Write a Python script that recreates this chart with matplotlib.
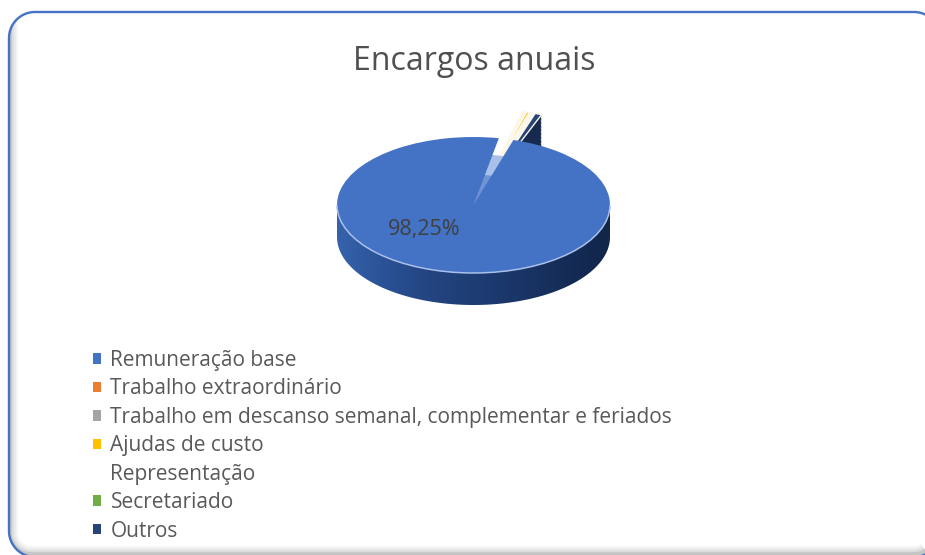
import numpy as np
import matplotlib
matplotlib.use("Agg")
import matplotlib.pyplot as plt
from matplotlib.colors import LinearSegmentedColormap
from matplotlib.patches import Patch, Polygon, Arc, Ellipse

plt.rcParams['font.family'] = ['Open Sans', 'DejaVu Sans']

# --- Data ---
TITLE = 'Encargos anuais'
labels = ['Remuneração base', 'Trabalho extraordinário',
          'Trabalho em descanso semanal, complementar e feriados',
          'Ajudas de custo', 'Representação', 'Secretariado', 'Outros']
values = [98.25, 0.20, 0.10, 0.30, 0.20, 0.15, 0.80]
main_label = '98,25%'
colors = ['#4472c4', '#ed7d31', '#a5a5a5', '#ffc000', '#ffffff', '#70ad47', '#264478']

W, H = 925, 555
CX, CY, RX, RY = 473.5, 205, 136.5, 68
DEPTH = 32 / RY
EXPLODE = 0.42
START_MAIN = 73
START_SMALL = 69
TEXT = '#595959'


def round_rect(x0, y0, x1, y1, r):
    """Outline of a rounded box as plain points (y axis points down)."""
    corners = [(x1 - r, y0 + r, -90), (x1 - r, y1 - r, 0), (x0 + r, y1 - r, 90), (x0 + r, y0 + r, 180)]
    pts = []
    for cx, cy, a in corners:
        t = np.radians(np.linspace(a, a + 90, 24))
        pts.append(np.c_[cx + r * np.cos(t), cy + r * np.sin(t)])
    return np.vstack(pts)


fig = plt.figure(figsize=(W / 100, H / 100), dpi=100, facecolor='white')

# frame with inner shadow
bg = fig.add_axes([0, 0, 1, 1])
bg.set_xlim(0, W)
bg.set_ylim(H, 0)
bg.axis('off')
frame_pts = round_rect(9, 12, 940, 557, 26)
frame = Polygon(frame_pts, closed=True, fc='white', ec='none')
bg.add_patch(frame)
for lw, col in [(13, '#f6f6f6'), (10, '#ebebeb'), (7, '#dcdcdc'), (4, '#c4c4c4')]:
    sh = Polygon(round_rect(9, -40, 936, 555, 22), closed=True, fc='none', ec=col, lw=lw)
    bg.add_patch(sh)
    sh.set_clip_path(frame)
bg.add_patch(Polygon(frame_pts, closed=True, fc='none', ec='#4472c4', lw=1.7))
bg.text(474.5, 61, TITLE, ha='center', va='center', fontsize=23, color='#505050')

# pie axes, unit circle squashed to the ellipse
xl, yl = 1.3, 1.6
ax = fig.add_axes([(CX - xl * RX) / W, 1 - (CY + yl * RY) / H,
                   2 * xl * RX / W, 2 * yl * RY / H])
ax.patch.set_alpha(0)

explode = [0] + [EXPLODE] * (len(values) - 1)

# extruded side of the exploded slices
for d in np.linspace(DEPTH, 0.01, 24):
    side_colors = ['none'] * (len(values) - 1) + ['#17294f']
    w, _ = ax.pie(values, explode=explode, colors=side_colors, startangle=START_SMALL,
                  counterclock=False, center=(0, -d), radius=1)
    for p in w:
        p.set_zorder(1)

# main slice
main_colors = [colors[0]] + ['none'] * (len(values) - 1)
wedges, _ = ax.pie(values, colors=main_colors, startangle=START_MAIN,
                   counterclock=False, radius=1)
wedges[0].set_zorder(4)

# the narrow gap is pale blue towards the centre
ax.add_patch(Ellipse((0, 0), 1.5, 1.5, fc='#a8c0ea', ec='none', zorder=3.5))
ax.add_patch(Ellipse((0, 0), 0.9, 0.9, fc='#6f93d6', ec='none', zorder=3.6))

# small exploded slices
small_colors = ['none'] + colors[1:]
wedges2, _ = ax.pie(values, explode=explode, colors=small_colors, startangle=START_SMALL,
                    counterclock=False, radius=1)
for p in wedges2[1:]:
    p.set_zorder(2)
    p.set_edgecolor('#fbf7ea')
    p.set_linewidth(1.0)
wedges2[0].set_visible(False)

# extruded side of the main slice
t = np.linspace(np.pi, 2 * np.pi, 200)
outline = np.r_[np.c_[[-1], [0.0]], np.c_[np.cos(t), np.sin(t) - DEPTH], np.c_[[1], [0.0]]]
clip = Polygon(outline, closed=True, transform=ax.transData, fc='none', ec='none')
ax.add_patch(clip)
side_cmap = LinearSegmentedColormap.from_list(
    'side', ['#3563ab', '#2b5296', '#234582', '#1e3d74', '#1a3567', '#142c57', '#12264a'])
im = ax.imshow(np.linspace(0, 1, 256).reshape(1, -1), extent=(-1, 1, -1 - DEPTH, 0),
               cmap=side_cmap, aspect='auto', zorder=3)
im.set_clip_path(clip)

# light rim along the front edge
ax.add_patch(Arc((0, 0), 2, 2, theta1=180, theta2=360, ec='#a9c1ea', lw=1.1, zorder=6))

ax.set_xlim(-xl, xl)
ax.set_ylim(-yl, yl)
ax.set_aspect('auto')
ax.axis('off')

ax.text((424 - CX) / RX, (CY - 229) / RY, main_label, ha='center', va='center',
        fontsize=15.5, color='#404040', zorder=10)

# legend
handles = [Patch(facecolor=c, edgecolor='none') for c in colors]
leg = bg.legend(handles, labels, loc='upper left', bbox_to_anchor=(93 / W, 1 - 350 / H),
                frameon=False, fontsize=15, labelcolor=TEXT, handlelength=0.4, handleheight=0.4,
                handletextpad=0.44, labelspacing=0.357, borderpad=0, borderaxespad=0)

fig.savefig('out.png', dpi=100)
